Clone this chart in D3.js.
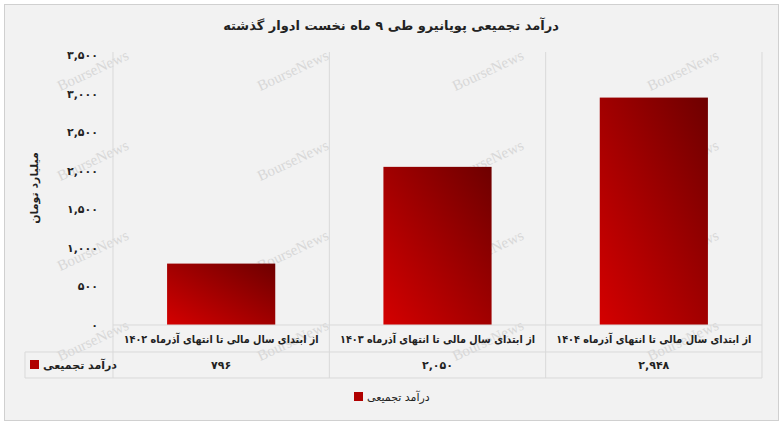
<!DOCTYPE html>
<html><head><meta charset="utf-8">
<script src="https://cdn.jsdelivr.net/npm/d3@7"></script>
<style>body{margin:0;background:#fff}svg{font-family:"DejaVu Sans",sans-serif}</style>
</head><body><svg id="c" width="783" height="426"></svg>
<script>
const categories=["از ابتدای سال مالی تا انتهای آذرماه ۱۴۰۲","از ابتدای سال مالی تا انتهای آذرماه ۱۴۰۳","از ابتدای سال مالی تا انتهای آذرماه ۱۴۰۴"];
const values=[796,2050,2948];
const valueLabels=["۷۹۶","۲,۰۵۰","۲,۹۴۸"];
const ticks=[0,500,1000,1500,2000,2500,3000,3500];
const seriesName="درآمد تجمیعی";
const title="درآمد تجمیعی پویانیرو طی ۹ ماه نخست ادوار گذشته";
const yLabel="میلیارد تومان";
const fa=n=>d3.format(",")(n).replace(/\d/g,d=>"۰۱۲۳۴۵۶۷۸۹"[d]);

const svg=d3.select("#c");
svg.append("rect").attr("x",4.5).attr("y",4.5).attr("width",774).attr("height",416).attr("fill","#f2f2f2").attr("stroke","#d0d0d0");
const L=113,R=762,T=55,B=325;
const x=d3.scaleBand().domain(categories).range([L,R]).paddingInner(0).paddingOuter(0);
const y=d3.scaleLinear().domain([0,3500]).range([B,T]);
const defs=svg.append("defs");
const g=defs.append("linearGradient").attr("id","gr").attr("x1","0").attr("y1","1").attr("x2","1").attr("y2","0");
g.append("stop").attr("offset","0").attr("stop-color","#d40000");
g.append("stop").attr("offset","1").attr("stop-color","#6e0000");

const wm=svg.append("g").attr("fill","#d8d8d8").attr("font-family","Liberation Serif").attr("font-size",15);
[[95,75],[295,75],[490,75],[685,75],[95,165],[295,165],[490,165],[685,165],[95,255],[295,255],[490,255],[685,255],[95,345],[295,345],[490,345],[685,345]].forEach(([a,b])=>wm.append("text").attr("x",a).attr("y",b).attr("text-anchor","middle").attr("transform",`rotate(-25 ${a} ${b})`).text("BourseNews"));

svg.append("text").attr("x",391).attr("y",30).attr("text-anchor","middle").attr("font-weight","bold").attr("font-size",13).attr("fill","#222").text(title);
[L,...categories.map(c=>x(c)+x.bandwidth())].forEach(v=>svg.append("line").attr("x1",v).attr("x2",v).attr("y1",T-3).attr("y2",378).attr("stroke","#d9d9d9"));
svg.append("g").selectAll("text").data(ticks).join("text").attr("x",98).attr("y",d=>y(d)+4).attr("text-anchor","end").attr("font-size",11).attr("font-weight","bold").attr("fill","#222").text(fa);
svg.append("text").attr("transform","translate(38,188) rotate(-90)").attr("text-anchor","middle").attr("font-size",11).attr("font-weight","bold").attr("fill","#222").text(yLabel);
svg.append("g").selectAll("rect").data(values).join("rect").attr("x",(d,i)=>x(categories[i])+x.bandwidth()*0.25).attr("width",x.bandwidth()*0.5).attr("y",d=>y(d)).attr("height",d=>B-y(d)).attr("fill","url(#gr)");
const tg=svg.append("g").attr("stroke","#d9d9d9").attr("fill","none");
tg.append("line").attr("x1",L).attr("x2",R).attr("y1",B).attr("y2",B);
tg.append("line").attr("x1",25).attr("x2",R).attr("y1",352).attr("y2",352);
tg.append("line").attr("x1",25).attr("x2",R).attr("y1",378).attr("y2",378);
tg.append("line").attr("x1",25).attr("x2",25).attr("y1",352).attr("y2",378);
svg.append("g").selectAll("text").data(categories).join("text").attr("x",c=>x(c)+x.bandwidth()/2).attr("y",343).attr("text-anchor","middle").attr("font-size",11).attr("font-weight","bold").attr("fill","#222").text(c=>c)
 .each(function(){const w=this.getComputedTextLength();if(w>195){this.setAttribute("textLength",195);this.setAttribute("lengthAdjust","spacingAndGlyphs");}});
svg.append("g").selectAll("text").data(valueLabels).join("text").attr("x",(d,i)=>x(categories[i])+x.bandwidth()/2).attr("y",369).attr("text-anchor","middle").attr("font-size",11).attr("font-weight","bold").attr("fill","#222").text(d=>d);
svg.append("rect").attr("x",30).attr("y",360).attr("width",9).attr("height",9).attr("fill","#b00000");
svg.append("text").attr("x",43).attr("y",369).attr("font-size",11).attr("font-weight","bold").attr("fill","#222").text(seriesName);
svg.append("rect").attr("x",354).attr("y",392).attr("width",9).attr("height",9).attr("fill","#b00000");
svg.append("text").attr("x",367).attr("y",401).attr("font-size",11).attr("fill","#222").text(seriesName);
</script></body></html>
